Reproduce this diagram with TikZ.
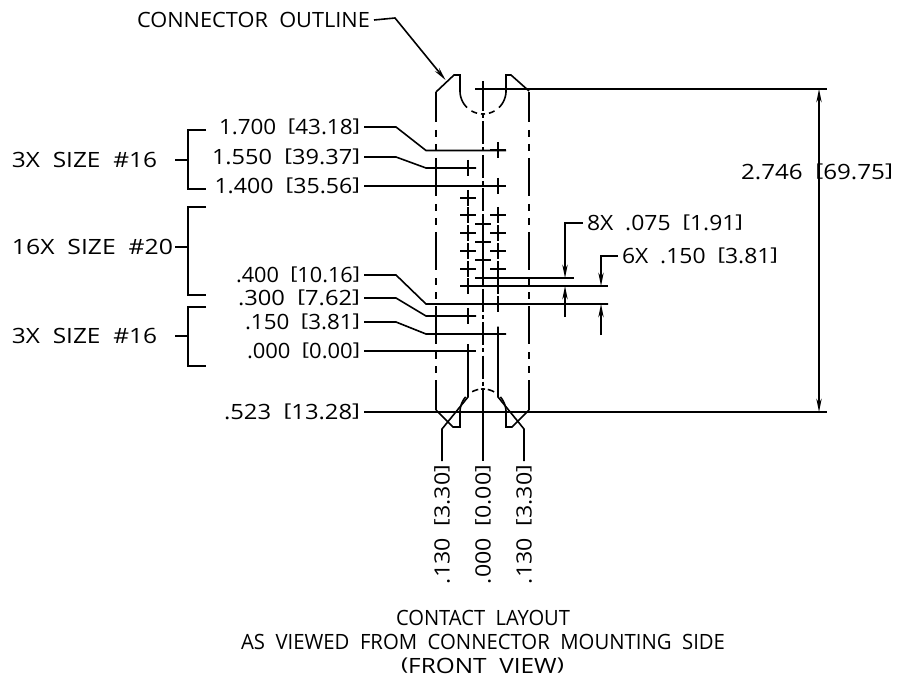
\documentclass[tikz,border=0pt]{standalone}
\usepackage{fontspec}
\usepackage{graphicx}
\setmainfont{Open Sans}
\usetikzlibrary{arrows.meta}
\newdimen\pxu \pxu=.75pt
\newcommand{\fit}[2]{\resizebox{#1\pxu}{\height}{#2}}
\newcommand{\sq}[1]{\raisebox{.12em}{\scalebox{1}[.84]{#1}}}
\tikzset{
  ln/.style={line width=1.2pt,line join=miter},
  arr/.style={ln,-{Stealth[length=10pt,width=4pt]}},
  hid/.style={ln,dash pattern=on 28.5pt off 6pt on 5.25pt off 5.25pt on 5.25pt off 5.25pt,dash phase=6pt},
  ctr/.style={ln,dash pattern=on 17.25pt off 2.25pt on 3pt off 2.6pt},
  tx/.style={inner sep=0pt,outer sep=0pt,anchor=west,text height=11.25pt,text depth=0pt,font=\fontsize{15.8pt}{18pt}\selectfont},
}
\begin{document}
\begin{tikzpicture}[x=.75pt,y=-.75pt]
\useasboundingbox (0,0) rectangle (909,677);
% connector outline
\draw[ln] (436,92) -- (454,75) -- (460,75) -- (460,91);
\draw[ln] (529,91) -- (511,75) -- (506,75) -- (506,91);
\draw[hid] (436,92) -- (436,410);
\draw[hid] (529,92) -- (529,410);
\draw[ln] (436,410) -- (453,427) -- (460,427) -- (460,412);
\draw[ln] (529,410) -- (512,427) -- (506,427) -- (506,412);
% notches
\foreach \a/\b in {180/134,120/105,95/85,75/60,46/0}{
  \draw[ln] plot[domain=\a:\b,samples=12,smooth] ({483+23*cos(\x)},{91+23*sin(\x)});
}
\foreach \a/\b in {180/221,242/258,265/275,282/299,319/360}{
  \draw[ln] plot[domain=\a:\b,samples=12,smooth] ({483+23*cos(\x)},{412+23*sin(\x)});
}
% centre line
\draw[ln] (483,82) -- (483,88);
\draw[ctr] (483,88) -- (483,398);
% contact crosses
\foreach \x/\y in {498/150,468/168,498/186,
  468/198,468/215,468/233,468/251,468/269,468/286,
  483/224,483/242,483/260,483/278,483/304,
  498/215,498/233,498/251,498/269,498/286,498/304,
  468/316,483/89}{
  \draw[ln] (\x-8,\y) -- (\x+8,\y);
  \draw[ln] (\x,\y-8) -- (\x,\y+8);
}
% brackets
\draw[ln] (206,130) -- (188,130) -- (188,189) -- (206,189);
\draw[ln] (175,160) -- (188,160);
\draw[ln] (206,207) -- (188,207) -- (188,295) -- (206,295);
\draw[ln] (175,247) -- (188,247);
\draw[ln] (206,307) -- (188,307) -- (188,366) -- (206,366);
\draw[ln] (175,336) -- (188,336);
% labels
\node[tx] (co) at (137,20) {\fit{233}{CONNECTOR~~OUTLINE}};
\node[tx] (g1) at (12,160) {\fit{145}{3X~~SIZE~~\#16}};
\node[tx] (g2) at (12,247) {\fit{161}{16X~~SIZE~~\#20}};
\node[tx] (g3) at (12,336) {\fit{145}{3X~~SIZE~~\#16}};
\node[tx] (a1) at (219,127) {\fit{141}{1.700~~\sq{[}43.18\sq{]}}};
\node[tx] (a2) at (212,157) {\fit{148}{1.550~~\sq{[}39.37\sq{]}}};
\node[tx] (a3) at (214.5,186) {\fit{145.5}{1.400~~\sq{[}35.56\sq{]}}};
\node[tx] (a4) at (236,275) {\fit{124}{.400~~\sq{[}10.16\sq{]}}};
\node[tx] (a5) at (238,298) {\fit{122}{.300~~\sq{[}7.62\sq{]}}};
\node[tx] (a6) at (245,322) {\fit{115}{.150~~\sq{[}3.81\sq{]}}};
\node[tx] (a7) at (247,351) {\fit{113}{.000~~\sq{[}0.00\sq{]}}};
\node[tx] (a8) at (224,412) {\fit{136}{.523~~\sq{[}13.28\sq{]}}};
\node[tx] (dim) at (741,172) {\fit{152}{2.746~~\sq{[}69.75\sq{]}}};
\node[tx] (d8) at (587,223) {\fit{156}{8X~~.075~~\sq{[}1.91\sq{]}}};
\node[tx] (d6) at (622,256) {\fit{156}{6X~~.150~~\sq{[}3.81\sq{]}}};
\node[tx,rotate=90] (b1) at (442,584) {\fit{119}{.130~~\sq{[}3.30\sq{]}}};
\node[tx,rotate=90] (b2) at (483,584) {\fit{119}{.000~~\sq{[}0.00\sq{]}}};
\node[tx,rotate=90] (b3) at (524,584) {\fit{119}{.130~~\sq{[}3.30\sq{]}}};
\node[tx] (t1) at (396,618) {\fit{174}{CONTACT~~LAYOUT}};
\node[tx] (t2) at (241,642) {\fit{484}{AS~~VIEWED~~FROM~~CONNECTOR~~MOUNTING~~SIDE}};
\node[tx] (t3) at (401,666) {\fit{163}{\sq{(}FRONT~~VIEW\sq{)}}};
% leaders
\coordinate (e1) at (426,150.5); \coordinate (e2) at (426,168);
\coordinate (e4) at (426,304);   \coordinate (e5) at (426,316);
\coordinate (e6) at (426,334);
\draw[ln] ([xshift=3pt]a1.east) -- (396,127) -- (e1) -- (506,150.5);
\draw[ln] ([xshift=3pt]a2.east) -- (396,157) -- (e2) -- (476,168);
\draw[ln] ([xshift=3pt]a3.east) -- (506,186);
\draw[ln] ([xshift=3pt]a4.east) -- (396,275) -- (e4) -- (608,304);
\draw[ln] ([xshift=3pt]a5.east) -- (396,298) -- (e5) -- (476,316);
\draw[ln] ([xshift=3pt]a6.east) -- (396,322) -- (e6) -- (506,334);
\draw[ln] ([xshift=3pt]a7.east) -- (476,351);
\draw[ln] ([xshift=3pt]a8.east) -- (827,412);
% contacts at bottom with leaders
\draw[ln] (442,461) -- (442,429) -- (468,397) -- (468,344);
\draw[ln] (524,461) -- (524,429) -- (498,397) -- (498,326.5);
\draw[ln] (483,398) -- (483,461);
% datum lines
\draw[ln] (475,89) -- (827,89);
\draw[ln] (475,278) -- (574,278);
\draw[ln] (460,286) -- (608,286);
% dimensions
\draw[arr] (819,250) -- (819,89);
\draw[arr] (819,250) -- (819,412);
\draw[arr] ([xshift=-3pt]d8.west) -- (565,223) -- (565,278);
\draw[arr] (565,317) -- (565,286);
\draw[arr] ([xshift=-3pt]d6.west) -- (601,256) -- (601,286);
\draw[arr] (601,335) -- (601,304);
\draw[-{Stealth[length=10pt,width=4pt]},ln] ([xshift=3pt]co.east) -- (395,18) -- (445.5,80);
\end{tikzpicture}
\end{document}
